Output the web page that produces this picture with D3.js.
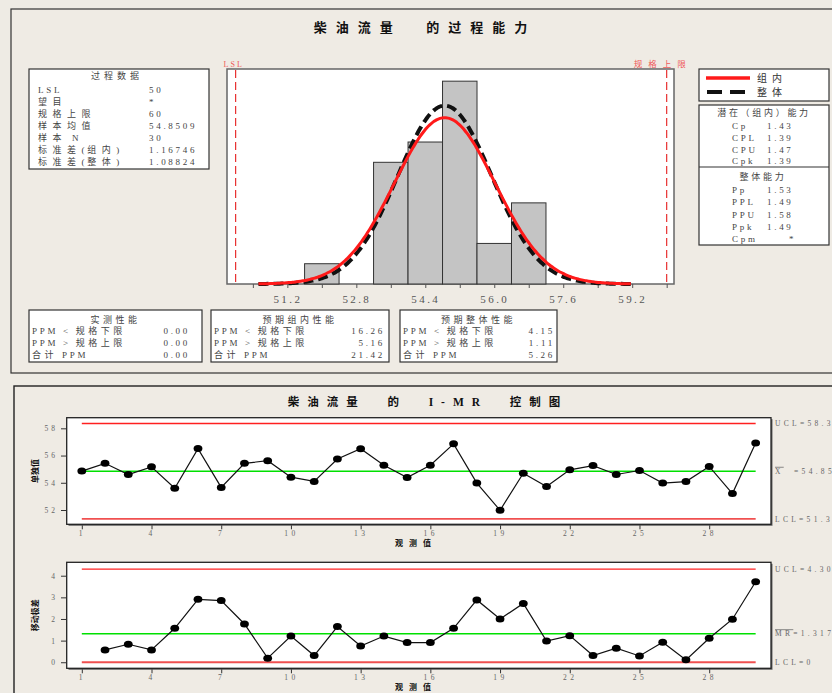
<!DOCTYPE html>
<html>
<head>
<meta charset="utf-8">
<script src="https://cdn.jsdelivr.net/npm/d3@7"></script>
<style>
  body { margin: 0; background: #eeebe4; overflow: hidden; }
  svg { display: block; }
  text { font-family: "Liberation Serif", "Noto Sans CJK SC", serif; white-space: pre; }
</style>
</head>
<body>
<svg id="chart" width="832" height="693"></svg>
<script>
// ---- data ----
const obs = d3.range(1, 31);
const values = [54.86, 55.43, 54.60, 55.17, 53.60, 56.51, 53.66, 55.43, 55.62, 54.41,
                54.10, 55.75, 56.50, 55.29, 54.38, 55.29, 56.86, 53.98, 51.98, 54.70,
                53.72, 54.95, 55.26, 54.61, 54.90, 53.98, 54.09, 55.20, 53.21, 56.93];

const lsl = 50, usl = 60;
const mean = 54.8509, sdWithin = 1.16746, sdOverall = 1.08824;
const binEdges = [51.6, 52.4, 53.2, 54.0, 54.8, 55.6, 56.4, 57.2];
const histTicks = [51.2, 52.8, 54.4, 56.0, 57.6, 59.2];
const curveRange = [50.53, 59.17];

const processLabels = ["LSL", "望目", "规格上限", "样本均值", "样本 N", "标准差(组内)", "标准差(整体)"];
const processValues = ["50", "*", "60", "54.8509", "30", "1.16746", "1.08824"];

const withinLabels = ["Cp", "CPL", "CPU", "Cpk"];
const withinValues = ["1.43", "1.39", "1.47", "1.39"];
const overallLabels = ["Pp", "PPL", "PPU", "Ppk", "Cpm"];
const overallValues = ["1.53", "1.49", "1.58", "1.49", "*"];

const ppmLabels = ["PPM < 规格下限", "PPM > 规格上限", "合计 PPM"];
const ppmObserved = ["0.00", "0.00", "0.00"];
const ppmExpWithin = ["16.26", "5.16", "21.42"];
const ppmExpOverall = ["4.15", "1.11", "5.26"];

const iLimits = { ucl: 58.354, cl: 54.851, lcl: 51.348 };
const mrLimits = { ucl: 4.303, cl: 1.317, lcl: 0 };
const obsTicks = [1, 4, 7, 10, 13, 16, 19, 22, 25, 28];
const iTicks = [52, 54, 56, 58];
const mrTicks = [0, 1, 2, 3, 4];

const svg = d3.select("#chart");
const txtColor = "#444";
const isCJK = ch => /[\u3000-\u9fff\uff00-\uffef]/.test(ch);

// ---- helpers ----
function box(x, y, w, h) {
  svg.append("rect").attr("x", x).attr("y", y).attr("width", w).attr("height", h)
    .attr("fill", "#fff").attr("stroke", "#333").attr("stroke-width", 1.2);
}
// text with separate letter spacing for CJK and latin runs
function label(x, y, s, anchor, opts = {}) {
  const t = svg.append("text").attr("x", x).attr("y", y).attr("dy", "0.35em")
    .attr("text-anchor", anchor || "start")
    .attr("font-size", opts.size || 9)
    .attr("font-weight", opts.bold ? "bold" : null)
    .attr("fill", opts.color || txtColor);
  const lsLatin = opts.ls == null ? 2.7 : opts.ls;
  const lsCJK = opts.lsc == null ? lsLatin : opts.lsc;
  const runs = [];
  [...s].forEach(ch => {
    const c = isCJK(ch);
    if (runs.length && runs[runs.length - 1].c === c) runs[runs.length - 1].s += ch;
    else runs.push({ c, s: ch });
  });
  runs.forEach(r => t.append("tspan").attr("letter-spacing", r.c ? lsCJK : lsLatin).text(r.s));
  return t;
}

// ---- panels ----
svg.append("rect").attr("x", 11).attr("y", 9).attr("width", 840).attr("height", 364)
  .attr("fill", "#efebe4").attr("stroke", "#333").attr("stroke-width", 1.2);
svg.append("rect").attr("x", 14).attr("y", 386).attr("width", 840).attr("height", 330)
  .attr("fill", "#efebe4").attr("stroke", "#222").attr("stroke-width", 1.4);

label(425, 27, "柴油流量  的过程能力", "middle", { size: 13, bold: true, ls: 9, color: "#111" });

// ---- process data box ----
box(29, 69, 180, 100);
label(117, 76, "过程数据", "middle", { lsc: 4 });
processLabels.forEach((d, i) => {
  label(38, 90 + i * 12, d, "start", { lsc: 5.5 });
  label(149, 90 + i * 12, processValues[i]);
});

// ---- histogram ----
const hx = d3.scaleLinear().domain([49.8, 60.17]).range([227, 674]);
const hy = d3.scaleLinear().domain([0, 10.6]).range([284, 69]);

svg.append("rect").attr("x", 227).attr("y", 69).attr("width", 447).attr("height", 215)
  .attr("fill", "#fff").attr("stroke", "#666").attr("stroke-width", 1.5);

const bins = d3.bin().domain([binEdges[0], binEdges[binEdges.length - 1]])
  .thresholds(binEdges.slice(1, -1))(values);

svg.append("g").selectAll("rect").data(bins.filter(b => b.length)).join("rect")
  .attr("x", d => hx(d.x0)).attr("y", d => hy(d.length))
  .attr("width", d => hx(d.x1) - hx(d.x0)).attr("height", d => hy(0) - hy(d.length))
  .attr("fill", "#c4c4c4").attr("stroke", "#333").attr("stroke-width", 1);

// spec limits
[lsl, usl].forEach(v => {
  svg.append("line").attr("x1", hx(v)).attr("x2", hx(v)).attr("y1", 70).attr("y2", 283)
    .attr("stroke", "#e83030").attr("stroke-width", 1.2).attr("stroke-dasharray", "8,4");
});
label(hx(lsl) - 12, 64, "LSL", "start", { size: 8, color: "#f05a5a", ls: 2 });
label(hx(usl) + 25, 64, "规格上限", "end", { size: 8.5, color: "#f05a5a", ls: 6 });

// x axis
const xAxis = d3.axisBottom(hx)
  .tickValues(d3.range(0, 15).map(i => 50.4 + i * 0.8).filter(v => v <= 60))
  .tickSize(4)
  .tickFormat(v => histTicks.some(t => Math.abs(t - v) < 1e-6) ? d3.format(".1f")(v) : "");
const gx = svg.append("g").attr("transform", "translate(0,284)").call(xAxis);
gx.select(".domain").remove();
gx.selectAll("line").attr("stroke", "#555");
gx.selectAll("text").attr("font-size", 11).attr("letter-spacing", 2.4).attr("fill", "#555")
  .attr("font-family", "Liberation Mono, monospace").attr("dy", "1.1em");

// normal curves
const pdf = (x, m, s) => Math.exp(-0.5 * ((x - m) / s) ** 2) / (s * Math.sqrt(2 * Math.PI));
const scaleN = values.length * (binEdges[1] - binEdges[0]);
const xs = d3.range(160).map(i => curveRange[0] + (curveRange[1] - curveRange[0]) * i / 159);
const curve = d3.line().x(d => hx(d[0])).y(d => hy(d[1])).curve(d3.curveBasis);
svg.append("path").datum(xs.map(x => [x, pdf(x, mean, sdOverall) * scaleN]))
  .attr("d", curve).attr("fill", "none").attr("stroke", "#111").attr("stroke-width", 4)
  .attr("stroke-dasharray", "10,5");
svg.append("path").datum(xs.map(x => [x, pdf(x, mean, sdWithin) * scaleN]))
  .attr("d", curve).attr("fill", "none").attr("stroke", "#ff1a1a").attr("stroke-width", 3);

// ---- legend ----
box(699, 69, 130, 32);
svg.append("line").attr("x1", 706).attr("x2", 750).attr("y1", 78).attr("y2", 78)
  .attr("stroke", "#ff1a1a").attr("stroke-width", 3.5);
svg.append("line").attr("x1", 707).attr("x2", 750).attr("y1", 92).attr("y2", 92)
  .attr("stroke", "#111").attr("stroke-width", 4).attr("stroke-dasharray", "15,8");
label(757, 78, "组内", "start", { size: 10, ls: 5, color: "#333" });
label(757, 92, "整体", "start", { size: 10, ls: 5, color: "#333" });

// ---- capability box ----
box(699, 105, 130, 140);
svg.append("line").attr("x1", 699).attr("x2", 829).attr("y1", 167).attr("y2", 167)
  .attr("stroke", "#333").attr("stroke-width", 1.2);
label(764, 113, "潜在（组内）能力", "middle", { lsc: 2.7 });
withinLabels.forEach((d, i) => {
  label(732, 126 + i * 11.7, d);
  label(767, 126 + i * 11.7, withinValues[i]);
});
label(763, 177, "整体能力", "middle", { lsc: 2.7 });
overallLabels.forEach((d, i) => {
  label(732, 190 + i * 12.3, d);
  label(overallValues[i] === "*" ? 789 : 767, 190 + i * 12.3, overallValues[i]);
});

// ---- PPM boxes ----
const ppmBoxes = [
  { x: 29, w: 173, title: "实测性能", vals: ppmObserved, vr: 190 },
  { x: 211, w: 178, title: "预期组内性能", vals: ppmExpWithin, vr: 385 },
  { x: 400, w: 157, title: "预期整体性能", vals: ppmExpOverall, vr: 555 }
];
ppmBoxes.forEach(b => {
  box(b.x, 310, b.w, 52);
  label(b.x + b.w / 2, 320, b.title, "middle", { lsc: 3.5 });
  ppmLabels.forEach((d, i) => {
    label(b.x + 3, 331 + i * 12, d, "start", { lsc: 3.5 });
    label(b.vr, 331 + i * 12, b.vals[i], "end");
  });
});

// ---- I-MR chart ----
label(428, 402, "柴油流量  的  I-MR  控制图", "middle", { size: 11.5, bold: true, ls: 8, color: "#111" });

const cx = d3.scaleLinear().domain([0.35, 30.66]).range([66.7, 771]);
const mr = values.slice(1).map((v, i) => ({ o: i + 2, v: Math.abs(v - values[i]) }));
const iData = values.map((v, i) => ({ o: obs[i], v }));

function controlChart(top, bottom, domain, data, lim, ticks, yTitle, limLabels) {
  const y = d3.scaleLinear().domain(domain).range([bottom, top]);
  // shadow + frame
  svg.append("rect").attr("x", 68.5).attr("y", top + 1.5).attr("width", 704).attr("height", bottom - top)
    .attr("fill", "#666");
  svg.append("rect").attr("x", 66.7).attr("y", top).attr("width", 771 - 66.7).attr("height", bottom - top)
    .attr("fill", "#fff").attr("stroke", "#222").attr("stroke-width", 1.3);

  // limits
  [[lim.ucl, "#ff2020", 1.3], [lim.cl, "#00e000", 1.5], [lim.lcl, "#f05050", 1.8]].forEach(([v, c, w]) => {
    svg.append("line").attr("x1", cx(1)).attr("x2", cx(30)).attr("y1", y(v)).attr("y2", y(v))
      .attr("stroke", c).attr("stroke-width", w);
  });

  // data line + points
  svg.append("path").datum(data)
    .attr("d", d3.line().x(d => cx(d.o)).y(d => y(d.v)))
    .attr("fill", "none").attr("stroke", "#111").attr("stroke-width", 1.2);
  svg.append("g").selectAll("ellipse").data(data).join("ellipse")
    .attr("cx", d => cx(d.o)).attr("cy", d => y(d.v)).attr("rx", 4.4).attr("ry", 3.5)
    .attr("fill", "#000");

  // axes
  const ga = svg.append("g").attr("transform", `translate(0,${bottom + 1})`)
    .call(d3.axisBottom(cx).tickValues(obsTicks).tickSize(4).tickFormat(d3.format("d")));
  ga.select(".domain").remove();
  ga.selectAll("line").attr("stroke", "#333");
  ga.selectAll("text").attr("font-size", 7.5).attr("letter-spacing", 3.5).attr("fill", "#666")
    .attr("dy", "0.55em");

  const gy = svg.append("g").attr("transform", "translate(66,0)")
    .call(d3.axisLeft(y).tickValues(ticks).tickSize(5).tickFormat(d3.format("d")));
  gy.select(".domain").remove();
  gy.selectAll("line").attr("stroke", "#333");
  gy.selectAll("text").attr("font-size", 7.5).attr("letter-spacing", 3).attr("fill", "#666");

  // axis titles
  svg.append("text").attr("transform", `translate(38,${(top + bottom) / 2}) rotate(-90)`)
    .attr("text-anchor", "middle").attr("font-size", 8).attr("font-weight", "bold")
    .attr("fill", "#111").text(yTitle);
  label(416, bottom + 19, "观测值", "middle", { size: 8, bold: true, ls: 6, color: "#111" });

  // limit labels
  [lim.ucl, lim.cl, lim.lcl].forEach((v, i) => {
    const t = svg.append("text").attr("x", 775).attr("y", y(v)).attr("dy", "0.35em")
      .attr("font-size", 7.5).attr("letter-spacing", 3.3).attr("fill", "#666");
    const parts = limLabels[i];
    t.append("tspan").style("text-decoration", parts[1] ? "overline" : null).text(parts[0]);
    t.append("tspan").text(parts[2]);
  });
}

controlChart(417.7, 524.3, [50.95, 58.78], iData, iLimits, iTicks, "单独值",
  [["UCL", false, "=" + d3.format(".2f")(iLimits.ucl)],
   ["X", true, "  =" + d3.format(".2f")(iLimits.cl)],
   ["LCL", false, "=" + d3.format(".2f")(iLimits.lcl)]]);

controlChart(562.3, 668.3, [-0.28, 4.62], mr, mrLimits, mrTicks, "移动极差",
  [["UCL", false, "=" + d3.format(".3f")(mrLimits.ucl)],
   ["MR", true, "=" + d3.format(".3f")(mrLimits.cl)],
   ["LCL", false, "=" + mrLimits.lcl]]);
</script>
</body>
</html>
